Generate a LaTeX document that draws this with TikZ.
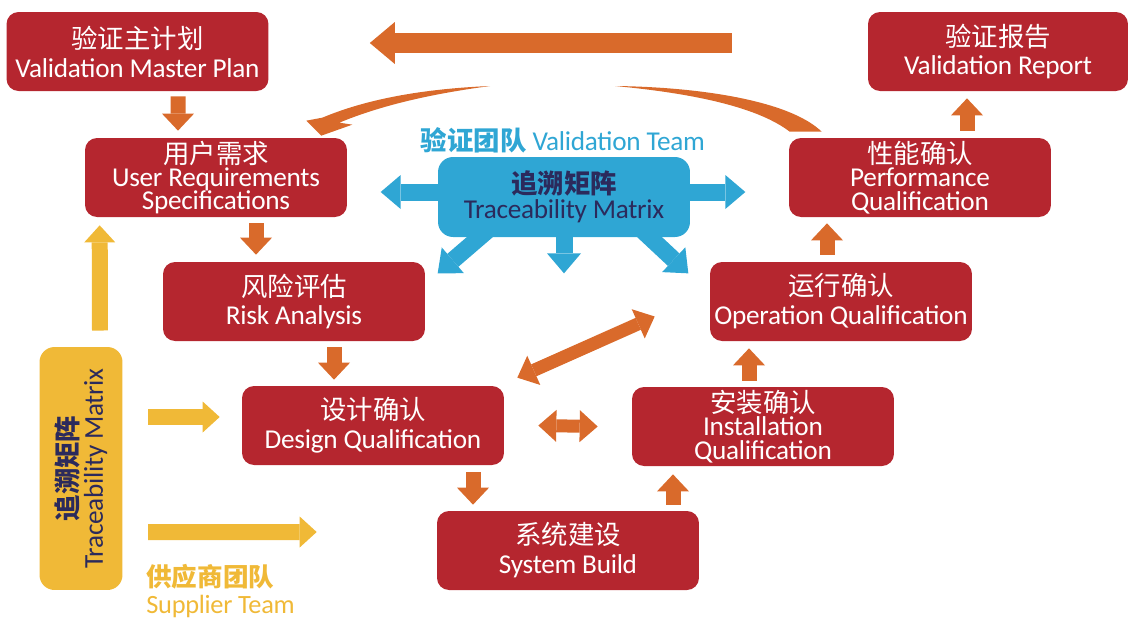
\documentclass[tikz,border=0pt]{standalone}
\usepackage{fontspec}
\setmainfont{Carlito}[LetterSpace=-1]
\newfontfamily\cjk{Noto Sans CJK SC}[Scale=0.97]
\usetikzlibrary{arrows.meta,calc}
\definecolor{vred}{RGB}{181,38,47}
\definecolor{vorange}{RGB}{217,106,43}
\definecolor{vblue}{RGB}{47,166,212}
\definecolor{vnavy}{RGB}{43,42,92}
\definecolor{vyellow}{RGB}{240,185,55}
\newcommand\tightlines{\lineskiplimit=-50pt\relax}
\tikzset{
  stage/.style={fill=vred,text=white,rounded corners=0.24cm,minimum width=5.24cm,minimum height=1.58cm,inner sep=0pt,align=center,font=\fontsize{15.5}{12.5}\selectfont,execute at begin node=\tightlines},
  flow/.style={draw=vorange,line width=0.3cm,-{Triangle[width=0.64cm,length=0.34cm,line width=0pt]}},
  twoway/.style={draw=vorange,line width=0.26cm,{Triangle[width=0.64cm,length=0.36cm,line width=0pt]}-{Triangle[width=0.64cm,length=0.36cm,line width=0pt]}},
  share/.style={draw=vblue,line width=0.34cm,-{Triangle[width=0.68cm,length=0.4cm,line width=0pt]}},
  feed/.style={draw=vyellow,line width=0.32cm,-{Triangle[width=0.62cm,length=0.34cm,line width=0pt]}},
}
\begin{document}
\begin{tikzpicture}[x=0.02cm,y=-0.02cm]
\useasboundingbox (0,0) rectangle (1129,620);
\node[stage] (vmp) at (137.5,51.5) {{\cjk 验证主计划}\\[4pt]Validation Master Plan};
\node[stage] (urs) at (216,177.5) {{\cjk 用户需求}\\[0.5pt]User Requirements\\[1pt]Specifications};
\node[stage] (risk) at (294,301.5) {{\cjk 风险评估}\\[4pt]Risk Analysis};
\node[stage] (dq) at (373,425.5) {{\cjk 设计确认}\\[4pt]Design Qualification};
\node[stage] (sb) at (568,550.5) {{\cjk 系统建设}\\[4pt]System Build};
\node[stage] (iq) at (763,426.5) {{\cjk 安装确认}\\[0.5pt]Installation\\[1pt]Qualification};
\node[stage] (oq) at (841,301.5) {{\cjk 运行确认}\\[4pt]Operation Qualification};
\node[stage] (pq) at (920,177.5) {{\cjk 性能确认}\\[0.5pt]Performance\\[1pt]Qualification};
\node[stage,minimum width=5.2cm] (vr) at (998,51.5) {{\cjk 验证报告}\\[4pt]Validation Report};
\node[fill=vblue,rounded corners=0.3cm,minimum width=5.04cm,minimum height=1.6cm,inner sep=0pt,text=vnavy,align=center,font=\fontsize{15.5}{14.5}\selectfont] (tm) at (564,197) {{\bfseries\cjk 追溯矩阵}\\Traceability Matrix};
\node[text=vblue,font=\fontsize{15.5}{15}\selectfont] (vteam) at (563,140) {{\bfseries\cjk 验证团队} Validation Team};
\node[fill=vyellow,rounded corners=0.3cm,minimum width=4.86cm,minimum height=1.66cm,inner sep=0pt,rotate=90,text=vnavy,align=center,font=\fontsize{15.5}{14.5}\selectfont] (tmv) at (81,468.5) {{\bfseries\cjk 追溯矩阵}\\Traceability Matrix};
\node[anchor=west,text=vyellow,align=left,inner sep=0pt,font=\fontsize{15}{15}\selectfont] (supp) at (146,591) {{\bfseries\cjk 供应商团队}\\Supplier Team};
\coordinate (fadeL) at (490,86);
\coordinate (fadeR) at (615,86);
\draw[flow] ($(vmp.south)+(40.5,5)$) -- ($(urs.north)+(-38,-7)$);
\draw[flow] ($(urs.south)+(40,6)$) -- ($(risk.north)+(-38,-7)$);
\draw[flow] ($(risk.south)+(40,6)$) -- ($(dq.north)+(-39,-6)$);
\draw[flow] ($(dq.south)+(100,7)$) -- ($(sb.north)+(-95,-6)$);
\draw[flow] ($(sb.north)+(105,-6)$) -- ($(iq.south)+(-90,8)$);
\draw[flow] ($(iq.north)+(-14,-6)$) -- ($(oq.south)+(-92,7)$);
\draw[flow] ($(oq.north)+(-14,-7)$) -- ($(pq.south)+(-93,6)$);
\draw[flow] ($(pq.north)+(47,-7)$) -- ($(vr.south)+(-31,7)$);
\draw[draw=vorange,line width=0.4cm,-{Triangle[width=0.84cm,length=0.5cm,line width=0pt]}] ($(vr.west)+(-136,-8.5)$) -- ($(vmp.east)+(101,-8.5)$);
\fill[vorange] (fadeR) .. controls +(85,1) and +(-32,-31) .. ($(pq.north west)+(33,-6)$) -- ($(pq.north west)+(1,-6)$) .. controls +(-30,-23) and +(85,8) .. (fadeR);
\fill[vorange] (fadeL) .. controls +(-70,3) and +(43,-18) .. ($(urs.north east)+(-25,-20)$) -- ++(-16,3) -- ++(15,15) -- ++(31,-11) -- ++(-13,-2) .. controls +(41,-17) and +(-60,8) .. (fadeL);
\draw[twoway] ($(dq.east)+(34,0)$) -- ($(iq.west)+(-34,0)$);
\draw[twoway] ($(dq.north east)+(13,-8)$) -- ($(oq.west)+(-55,15)$);
\draw[share] ($(tm.west)+(2,-5)$) -- +(-59,0);
\draw[share] ($(tm.east)+(-2,-5)$) -- +(57,0);
\draw[share] ($(tm.south)+(0,-2)$) -- +(0,38);
\draw[share] ($(tm.south west)+(50,-7)$) -- +(-50,43);
\draw[share] ($(tm.south east)+(-48,-7)$) -- +(46,43);
\draw[feed] ($(tmv.center)+(19,-138)$) -- ($(urs.south west)+(15,8)$);
\draw[feed] ($(tmv.center)+(67,-51.5)$) -- ($(dq.west)+(-22,-8.5)$);
\draw[feed] ($(tmv.center)+(67,63.5)$) -- ($(sb.west)+(-120,-18.5)$);
\end{tikzpicture}
\end{document}
